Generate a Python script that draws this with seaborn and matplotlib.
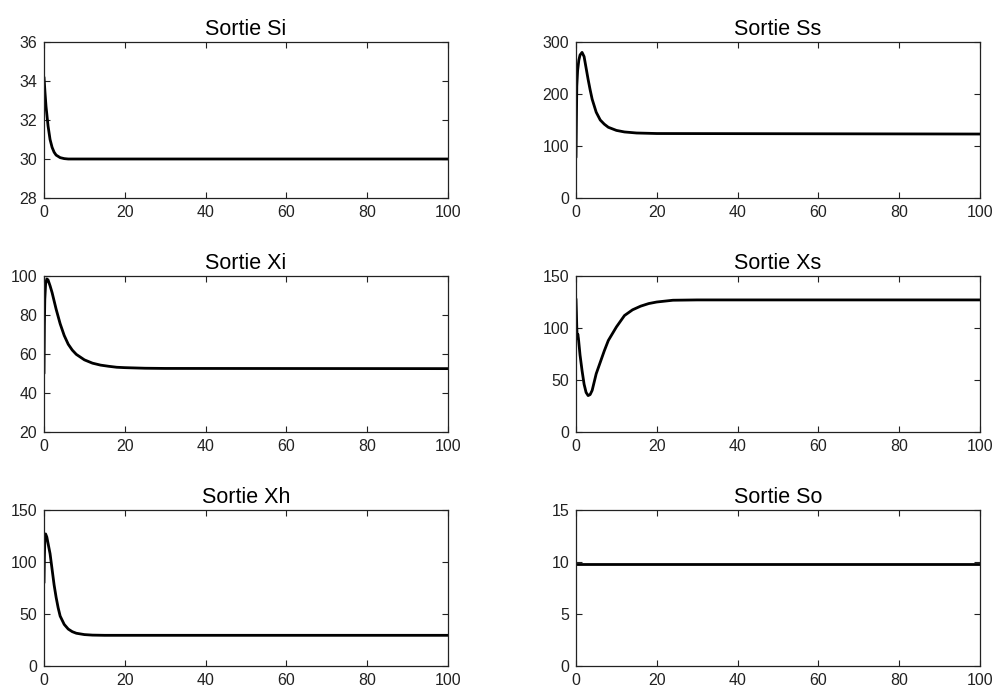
import matplotlib
matplotlib.use("Agg")
import matplotlib.pyplot as plt
import seaborn as sns
import pandas as pd

# Simulation time points (days) and the six model outputs
t_si = [0, 0.25, 0.5, 0.75, 1, 1.5, 2, 2.5, 3, 4, 5, 6, 8, 100]
si = [34.2, 33.4, 32.7, 32.2, 31.7, 31.0, 30.6, 30.35, 30.2, 30.07, 30.02, 30.0, 30.0, 30.0]

t_ss = [0, 0.1, 0.2, 0.4, 0.7, 1, 1.5, 2, 2.5, 3, 3.5, 4, 5, 6, 7, 8, 10, 12, 15, 20, 100]
ss = [78, 150, 215, 245, 265, 275, 280, 272, 250, 228, 208, 190, 165, 150, 142, 136, 130, 127, 125, 124, 123]

t_xi = [0, 0.1, 0.2, 0.4, 0.7, 1, 1.5, 2, 3, 4, 5, 6, 7, 8, 10, 12, 14, 16, 18, 20, 25, 30, 100]
xi = [50, 75, 88, 96, 98.5, 98, 95, 91.5, 83, 75.5, 69.5, 65, 62, 59.8, 57, 55.3, 54.3, 53.7, 53.2, 53.0, 52.7, 52.6, 52.5]

t_xs = [0, 0.1, 0.2, 0.3, 0.45, 0.6, 0.8, 1, 1.5, 2, 2.5, 3, 3.5, 4, 5, 6, 7, 8, 10, 12, 14, 16, 18, 20, 24, 30, 100]
xs = [128, 115, 100, 90, 94, 90, 82, 74, 59, 46, 38, 35, 36, 40, 56, 67, 78, 88, 101, 112, 117.5, 121, 123.5, 125, 126.7, 127, 127]

t_xh = [0, 0.1, 0.2, 0.4, 0.7, 1, 1.5, 2, 2.5, 3, 3.5, 4, 5, 6, 7, 8, 10, 12, 15, 100]
xh = [80, 105, 120, 127, 124, 118, 108, 93, 78, 66, 56, 48, 40, 35.5, 33, 31.5, 30.2, 29.7, 29.5, 29.5]

t_so = [0, 100]
so = [9.8, 9.8]

titles = ["Sortie Si", "Sortie Ss", "Sortie Xi", "Sortie Xs", "Sortie Xh", "Sortie So"]
series = [(t_si, si), (t_ss, ss), (t_xi, xi), (t_xs, xs), (t_xh, xh), (t_so, so)]
ylims = [(28, 36), (0, 300), (20, 100), (0, 150), (0, 150), (0, 15)]
ysteps = [2, 100, 20, 50, 50, 5]
xticks = [0, 20, 40, 60, 80, 100]

sns.set_theme(style="white")
plt.rcParams["font.family"] = ["Liberation Sans", "DejaVu Sans"]

W, H = 995, 691
fig = plt.figure(figsize=(W / 100, H / 100), dpi=100)
fig.patch.set_facecolor("white")

# subplot grid in pixels
lefts = [44, 576]
width = 404
tops = [42, 276, 510]
height = 156

for i, (title, (t, y), yl, ys) in enumerate(zip(titles, series, ylims, ysteps)):
    r, c = divmod(i, 2)
    ax = fig.add_axes([lefts[c] / W, 1 - (tops[r] + height) / H, width / W, height / H])
    df = pd.DataFrame({"t": t, "v": y})
    sns.lineplot(data=df, x="t", y="v", ax=ax, color="black", linewidth=2.0,
                 estimator=None, sort=False)
    ax.set_xlim(0, 100)
    ax.set_ylim(*yl)
    ax.set_xticks(xticks)
    yt = list(range(yl[0], yl[1] + 1, ys))
    ax.set_yticks(yt)
    ax.set_xticklabels([str(v) for v in xticks])
    ax.set_yticklabels([str(v) for v in yt])
    ax.set_xlabel("")
    ax.set_ylabel("")
    ax.tick_params(direction="in", length=4, width=0.8, color="#222222",
                   top=True, right=True, bottom=True, left=True,
                   labelsize=11.5, labelcolor="#222222")
    ax.tick_params(axis="x", pad=5)
    ax.tick_params(axis="y", pad=5)
    for sp in ax.spines.values():
        sp.set_visible(True)
        sp.set_color("#222222")
        sp.set_linewidth(0.9)
    ax.set_facecolor("white")
    ax.set_title(title, fontsize=15.5, color="black", pad=5)

fig.savefig("out.png", dpi=100, facecolor="white")
